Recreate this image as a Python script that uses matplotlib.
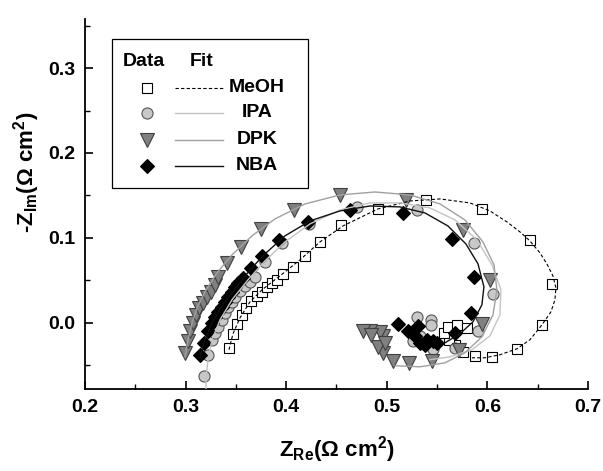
import matplotlib.pyplot as plt
from matplotlib.patches import Rectangle

plt.rcParams['font.family'] = ['Liberation Sans', 'DejaVu Sans']
plt.rcParams['font.weight'] = 'bold'
plt.rcParams['mathtext.fontset'] = 'custom'
plt.rcParams['mathtext.rm'] = 'Liberation Sans:bold'
plt.rcParams['mathtext.it'] = 'Liberation Sans:bold'
plt.rcParams['mathtext.bf'] = 'Liberation Sans:bold'

# measured spectra (Z_Re, -Z_Im) in Ohm cm2
meoh_x = [0.3434, 0.3468, 0.3508, 0.3558, 0.3600, 0.3647, 0.3707, 0.3756, 0.3806, 0.3856,
          0.3906, 0.3968, 0.4071, 0.4187, 0.4336, 0.4545, 0.4910, 0.5390, 0.5949, 0.6423,
          0.6639, 0.6546, 0.6291, 0.6043, 0.5877, 0.5760, 0.5678, 0.5621, 0.5572, 0.5611,
          0.5695, 0.5794]
meoh_y = [-0.0298, -0.0133, -0.0012, 0.0094, 0.0180, 0.0255, 0.0310, 0.0361, 0.0427, 0.0474,
          0.0506, 0.0576, 0.0655, 0.0788, 0.0949, 0.1147, 0.1338, 0.1447, 0.1345, 0.0976,
          0.0455, -0.0020, -0.0306, -0.0408, -0.0396, -0.0345, -0.0267, -0.0208, -0.0121, -0.0051,
          -0.0024, -0.0062]

ipa_x = [0.3186, 0.3226, 0.3259, 0.3292, 0.3325, 0.3359, 0.3392, 0.3424, 0.3458, 0.3491,
         0.3541, 0.3590, 0.3640, 0.3690, 0.3789, 0.3955, 0.4227, 0.4701, 0.5297, 0.5867,
         0.6053, 0.5910, 0.5678, 0.5303, 0.5436, 0.5436, 0.5263, 0.5330, 0.5462]
ipa_y = [-0.0632, -0.0376, -0.0200, -0.0121, -0.0044, 0.0035, 0.0114, 0.0192, 0.0251, 0.0309,
         0.0376, 0.0435, 0.0486, 0.0545, 0.0721, 0.0938, 0.1159, 0.1368, 0.1329, 0.0938,
         0.0338, -0.0102, -0.0298, 0.0074, 0.0035, -0.0024, -0.0220, -0.0161, -0.0306]

dpk_x = [0.2994, 0.3021, 0.3044, 0.3071, 0.3103, 0.3136, 0.3170, 0.3210, 0.3249, 0.3292,
         0.3325, 0.3415, 0.3548, 0.3747, 0.4078, 0.4535, 0.5191, 0.5760, 0.6026, 0.5943,
         0.5721, 0.5446, 0.5224, 0.5059, 0.4959, 0.4916, 0.4965, 0.4932, 0.4833, 0.4766,
         0.4840, 0.4982]
dpk_y = [-0.0356, -0.0220, -0.0102, -0.0004, 0.0094, 0.0173, 0.0239, 0.0309, 0.0368, 0.0447,
         0.0545, 0.0709, 0.0898, 0.1102, 0.1329, 0.1500, 0.1447, 0.1094, 0.0506, -0.0012,
         -0.0318, -0.0455, -0.0474, -0.0444, -0.0356, -0.0279, -0.0153, -0.0114, -0.0102, -0.0091,
         -0.0141, -0.0239]

nba_x = [0.3143, 0.3183, 0.3226, 0.3259, 0.3292, 0.3325, 0.3359, 0.3392, 0.3424, 0.3458,
         0.3491, 0.3524, 0.3568, 0.3650, 0.3756, 0.3931, 0.4215, 0.4634, 0.5164, 0.5645,
         0.5870, 0.5837, 0.5678, 0.5496, 0.5380, 0.5114, 0.5214, 0.5313, 0.5280, 0.5396,
         0.5330, 0.5462]
nba_y = [-0.0376, -0.0232, -0.0102, -0.0004, 0.0074, 0.0133, 0.0192, 0.0251, 0.0309, 0.0368,
         0.0427, 0.0467, 0.0526, 0.0644, 0.0788, 0.0976, 0.1186, 0.1329, 0.1298, 0.0985,
         0.0538, 0.0121, -0.0121, -0.0239, -0.0259, -0.0012, -0.0102, -0.0035, -0.0161, -0.0200,
         -0.0239, -0.0220]

# equivalent-circuit fit curves
meoh_fit_x = [0.3431, 0.3471, 0.3541, 0.3640, 0.3759, 0.3938, 0.4137, 0.4336, 0.4565, 0.4912,
              0.5231, 0.5529, 0.5827, 0.6026, 0.6195, 0.6324, 0.6423, 0.6523, 0.6592, 0.6652,
              0.6682, 0.6672, 0.6632, 0.6543, 0.6423, 0.6294, 0.6125, 0.5976, 0.5847]
meoh_fit_y = [-0.0318, -0.0129, 0.0059, 0.0247, 0.0388, 0.0553, 0.0741, 0.0953, 0.1141, 0.1341,
              0.1435, 0.1459, 0.1412, 0.1318, 0.1188, 0.1071, 0.0965, 0.0824, 0.0694, 0.0553,
              0.0412, 0.0271, 0.0129, -0.0024, -0.0200, -0.0306, -0.0376, -0.0412, -0.0412]

ipa_fit_x = [0.3203, 0.3203, 0.3223, 0.3262, 0.3342, 0.3461, 0.3620, 0.3789, 0.3988, 0.4237,
             0.4535, 0.4833, 0.5131, 0.5429, 0.5678, 0.5897, 0.6046, 0.6135, 0.6125, 0.6026,
             0.5847, 0.5628, 0.5429]
ipa_fit_y = [-0.0812, -0.0647, -0.0435, -0.0200, 0.0035, 0.0271, 0.0506, 0.0729, 0.0953, 0.1165,
             0.1329, 0.1412, 0.1412, 0.1353, 0.1212, 0.0976, 0.0682, 0.0388, 0.0094, -0.0153,
             -0.0318, -0.0400, -0.0435]

dpk_fit_x = [0.2994, 0.3024, 0.3064, 0.3123, 0.3203, 0.3312, 0.3461, 0.3660, 0.3889, 0.4187,
             0.4535, 0.4883, 0.5231, 0.5529, 0.5777, 0.5956, 0.6066, 0.6095, 0.6056, 0.5946,
             0.5777, 0.5579, 0.5330, 0.5082]
dpk_fit_y = [-0.0400, -0.0200, 0.0000, 0.0200, 0.0388, 0.0588, 0.0800, 0.1024, 0.1224, 0.1400,
             0.1506, 0.1541, 0.1506, 0.1400, 0.1212, 0.0953, 0.0682, 0.0388, 0.0094, -0.0165,
             -0.0353, -0.0471, -0.0518, -0.0506]

nba_fit_x = [0.3143, 0.3193, 0.3262, 0.3362, 0.3491, 0.3640, 0.3789, 0.3988, 0.4237, 0.4535,
             0.4833, 0.5131, 0.5380, 0.5608, 0.5787, 0.5907, 0.5966, 0.5946, 0.5857, 0.5728,
             0.5579]
nba_fit_y = [-0.0400, -0.0200, 0.0000, 0.0200, 0.0400, 0.0624, 0.0812, 0.1024, 0.1200, 0.1318,
             0.1376, 0.1365, 0.1294, 0.1141, 0.0929, 0.0694, 0.0424, 0.0212, 0.0012, -0.0129,
             -0.0235]

labels = ['MeOH', 'IPA', 'DPK', 'NBA']

marker_styles = [
    dict(marker='s', mfc='white', mec='black', ms=7.5, mew=0.8),
    dict(marker='o', mfc='#c8c8c8', mec='#555555', ms=8, mew=0.8),
    dict(marker='v', mfc='#808080', mec='#404040', ms=9.5, mew=0.8),
    dict(marker='D', mfc='black', mec='black', ms=7, mew=0.8),
]
line_styles = [
    dict(color='black', ls=(0, (3, 2)), lw=0.8),
    dict(color='#c4c4c4', ls='-', lw=1.0),
    dict(color='#a0a0a0', ls='-', lw=1.0),
    dict(color='#111111', ls='-', lw=1.0),
]

fig = plt.figure(figsize=(6.03, 4.71), dpi=100)
ax = fig.add_axes([0.141, 0.174, 0.834, 0.786])

data = [(meoh_x, meoh_y), (ipa_x, ipa_y), (dpk_x, dpk_y), (nba_x, nba_y)]
fits = [(meoh_fit_x, meoh_fit_y), (ipa_fit_x, ipa_fit_y), (dpk_fit_x, dpk_fit_y), (nba_fit_x, nba_fit_y)]

for (x, y), ms in zip(data, marker_styles):
    ax.plot(x, y, ls='none', zorder=2, **ms)
for (x, y), ls in zip(fits, line_styles):
    ax.plot(x, y, zorder=3, **ls)

ax.set_xlim(0.2, 0.7)
ax.set_ylim(-0.078, 0.358)
ax.set_xticks([0.2, 0.3, 0.4, 0.5, 0.6, 0.7])
ax.set_xticks([0.25, 0.35, 0.45, 0.55, 0.65], minor=True)
ax.set_yticks([0.0, 0.1, 0.2, 0.3])
ax.set_yticks([-0.05, 0.05, 0.15, 0.25, 0.35], minor=True)
ax.set_xticklabels(['0.2', '0.3', '0.4', '0.5', '0.6', '0.7'])
ax.set_yticklabels(['0.0', '0.1', '0.2', '0.3'])
ax.tick_params(which='major', direction='in', length=6, width=1.2, labelsize=14, pad=7)
ax.tick_params(which='minor', direction='in', length=3.5, width=1.0)
for lab in ax.get_xticklabels() + ax.get_yticklabels():
    lab.set_fontweight('bold')
ax.spines['top'].set_visible(False)
ax.spines['right'].set_visible(False)
ax.spines['left'].set_linewidth(1.3)
ax.spines['bottom'].set_linewidth(1.3)

ax.set_xlabel(r'Z$_{\mathrm{Re}}$(Ω cm$^{\mathrm{2}}$)', fontsize=16, fontweight='bold')
ax.set_ylabel(r'-Z$_{\mathrm{Im}}$(Ω cm$^{\mathrm{2}}$)', fontsize=16, fontweight='bold')
ax.xaxis.set_label_coords(0.5, -0.122)
ax.yaxis.set_label_coords(-0.085, 0.586)

# hand-built legend with separate Data / Fit columns
ax.add_patch(Rectangle((0.054, 0.543), 0.389, 0.403, transform=ax.transAxes,
                       fill=False, ec='black', lw=0.9, zorder=5))
ax.text(0.117, 0.884, 'Data', transform=ax.transAxes, ha='center', va='center',
        fontsize=14, fontweight='bold', zorder=6)
ax.text(0.232, 0.884, 'Fit', transform=ax.transAxes, ha='center', va='center',
        fontsize=14, fontweight='bold', zorder=6)
row_y = [0.8135, 0.746, 0.673, 0.603]
for yy, lab, ms, ls in zip(row_y, labels, marker_styles, line_styles):
    ax.plot([0.123], [yy], transform=ax.transAxes, ls='none', zorder=6, **ms)
    ax.plot([0.179, 0.275], [yy, yy], transform=ax.transAxes, zorder=6, **ls)
    ax.text(0.342, yy, lab, transform=ax.transAxes, ha='center', va='center',
            fontsize=14, fontweight='bold', zorder=6)

fig.savefig('out.png', dpi=100)
